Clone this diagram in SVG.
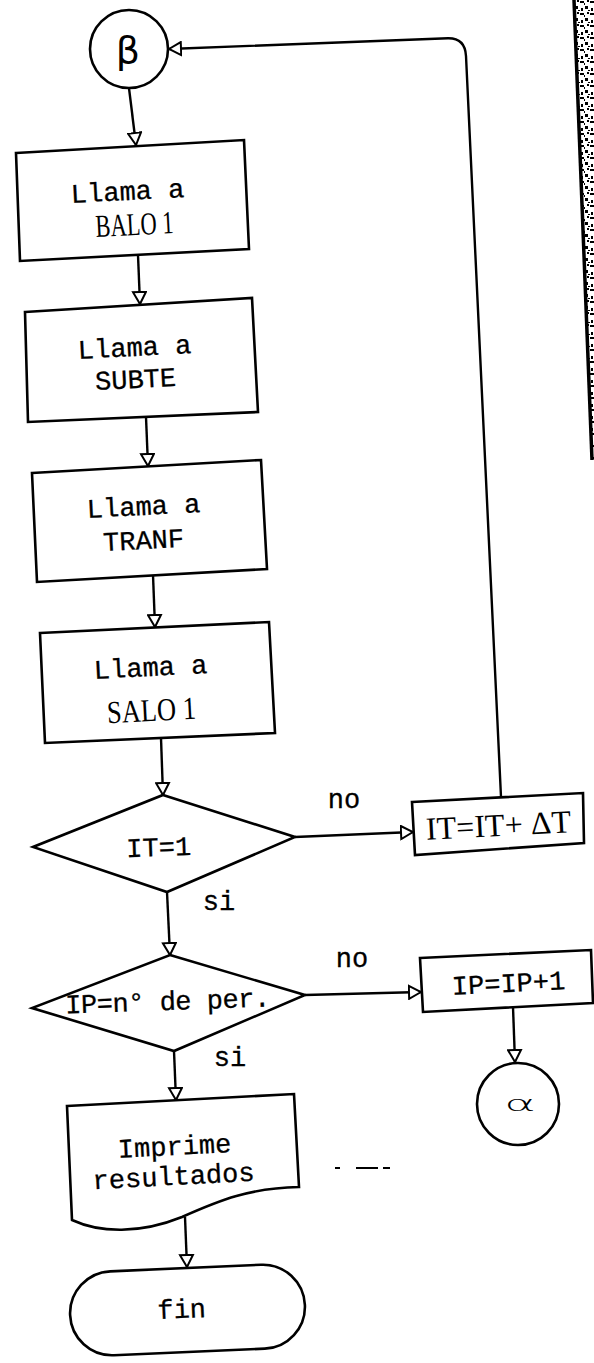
<svg xmlns="http://www.w3.org/2000/svg" width="594" height="1363" viewBox="0 0 594 1363">
<defs>
  <marker id="ah" viewBox="0 0 14 16" refX="13" refY="8" markerWidth="14" markerHeight="16" markerUnits="userSpaceOnUse" orient="auto">
    <path d="M1,1.5 L13,8 L1,14.5 Z" fill="#fff" stroke="#000" stroke-width="2"/>
  </marker>
  <pattern id="speck" width="10" height="12" patternUnits="userSpaceOnUse">
    <rect width="10" height="12" fill="#fff"/>
    <rect x="0" y="1" width="4" height="2" fill="#000"/>
    <rect x="5" y="6" width="3" height="3" fill="#000"/>
    <rect x="7" y="0" width="2" height="2" fill="#000"/>
    <rect x="1" y="8" width="2" height="3" fill="#000"/>
    <rect x="4" y="3" width="1" height="2" fill="#000"/>
    <rect x="8" y="10" width="2" height="1" fill="#000"/>
  </pattern>
  <style>
    .shape{fill:#fff;stroke:#000;stroke-width:2.6;stroke-linejoin:miter}
    .conn{fill:none;stroke:#000;stroke-width:2.4}
    .mono{font-family:"Liberation Mono","DejaVu Sans Mono",monospace;font-size:27px;fill:#000;stroke:#000;stroke-width:0.3;text-anchor:middle}
    .serif{font-family:"Liberation Serif","DejaVu Serif",serif;font-size:32px;fill:#000;text-anchor:middle}
    .greek{font-family:"DejaVu Sans","Liberation Sans",sans-serif;fill:#000;text-anchor:middle}
  </style>
</defs>
<rect width="594" height="1363" fill="#fff"/>

<g id="scan-edge">
  <polygon points="574,0 594,0 594,460 592,460" fill="url(#speck)"/>
  <line x1="574" y1="0" x2="592" y2="460" stroke="#000" stroke-width="3.5"/>
</g>

<g id="connectors">
  <path class="conn" d="M129,88 L136,145" marker-end="url(#ah)"/>
  <path class="conn" d="M138,255 L140,304" marker-end="url(#ah)"/>
  <path class="conn" d="M146,417 L148,466" marker-end="url(#ah)"/>
  <path class="conn" d="M153,575 L155,627" marker-end="url(#ah)"/>
  <path class="conn" d="M161,738 L163,795" marker-end="url(#ah)"/>
  <path class="conn" d="M167,892 L170,955" marker-end="url(#ah)"/>
  <path class="conn" d="M174,1051 L176,1100" marker-end="url(#ah)"/>
  <path class="conn" d="M185,1217 L187,1267" marker-end="url(#ah)"/>
  <path class="conn" d="M295,837 L413,832" marker-end="url(#ah)"/>
  <path class="conn" d="M305,995 L421,992" marker-end="url(#ah)"/>
  <path class="conn" d="M513,1007 L515,1062" marker-end="url(#ah)"/>
  <path class="conn" d="M501,797 L466,56 Q465,38 448,38.3 L169,49" marker-end="url(#ah)"/>
  <text class="mono" x="344" y="808">no</text>
  <text class="mono" x="352" y="967">no</text>
  <text class="mono" x="219" y="910">si</text>
  <text class="mono" x="230" y="1066">si</text>
</g>

<g id="node-beta">
  <circle class="shape" cx="129" cy="49" r="39"/>
  <text class="greek" x="128" y="63" font-size="38">β</text>
</g>

<g id="node-balo1">
  <polygon class="shape" points="16,153 244,140 249,249 20,261"/>
  <text class="mono" x="128" y="200" transform="rotate(-3 128 200)">Llama a</text>
  <text class="serif" x="135" y="235" textLength="78" lengthAdjust="spacingAndGlyphs" transform="rotate(-3 135 235)">BALO 1</text>
</g>

<g id="node-subte">
  <polygon class="shape" points="25,312 252,298 258,412 28,422"/>
  <text class="mono" x="135" y="356" transform="rotate(-3 135 356)">Llama a</text>
  <text class="mono" x="136" y="388" transform="rotate(-3 136 388)">SUBTE</text>
</g>

<g id="node-tranf">
  <polygon class="shape" points="32,473 261,460 267,569 37,582"/>
  <text class="mono" x="144" y="515" transform="rotate(-3 144 515)">Llama a</text>
  <text class="mono" x="144" y="549" transform="rotate(-3 144 549)">TRANF</text>
</g>

<g id="node-salo1">
  <polygon class="shape" points="40,633 269,622 275,733 45,743"/>
  <text class="mono" x="151" y="676" transform="rotate(-3 151 676)">Llama a</text>
  <text class="serif" x="152" y="721" textLength="89" lengthAdjust="spacingAndGlyphs" transform="rotate(-3 152 721)">SALO 1</text>
</g>

<g id="node-it1">
  <polygon class="shape" points="163,795 295,837 167,892 33,847"/>
  <text class="mono" x="159" y="856" transform="rotate(-2 159 856)">IT=1</text>
</g>

<g id="node-itdt">
  <polygon class="shape" points="412,802 583,793 584,843 415,855"/>
  <text class="serif" x="499" y="836" font-size="30" textLength="145" lengthAdjust="spacing" transform="rotate(-3 499 836)">IT=IT+ ΔT</text>
</g>

<g id="node-ip">
  <polygon class="shape" points="170,955 305,995 174,1051 32,1008"/>
  <text class="mono" x="168" y="1010" textLength="205" transform="rotate(-2 168 1010)">IP=n° de per.</text>
</g>

<g id="node-ipinc">
  <polygon class="shape" points="420,958 591,950 593,1003 423,1012"/>
  <text class="mono" x="509" y="992" transform="rotate(-3 509 992)">IP=IP+1</text>
</g>

<g id="node-alpha">
  <circle class="shape" cx="518" cy="1104" r="41"/>
  <text class="greek" font-size="32" font-weight="200" transform="translate(520,1111) scale(1.5,0.65)">α</text>
</g>

<g id="node-print">
  <path class="shape" d="M67,1106 L294,1094 L299,1187 C250,1188 220,1200 182,1217 C140,1234 100,1233 72,1220 Z"/>
  <text class="mono" x="175" y="1155" transform="rotate(-3 175 1155)">Imprime</text>
  <text class="mono" x="174" y="1185" transform="rotate(-3 174 1185)">resultados</text>
</g>

<g id="node-fin">
  <rect class="shape" x="70" y="1268" width="235" height="84" rx="42" ry="42" transform="rotate(-2.5 187.5 1310)"/>
  <text class="mono" x="182" y="1318" transform="rotate(-2.5 182 1318)">fin</text>
</g>

<g id="scan-noise" stroke="#000" stroke-width="2">
  <line x1="335" y1="1168" x2="340" y2="1168"/>
  <line x1="356" y1="1168" x2="378" y2="1168"/>
  <line x1="383" y1="1168" x2="390" y2="1168"/>
</g>
</svg>
